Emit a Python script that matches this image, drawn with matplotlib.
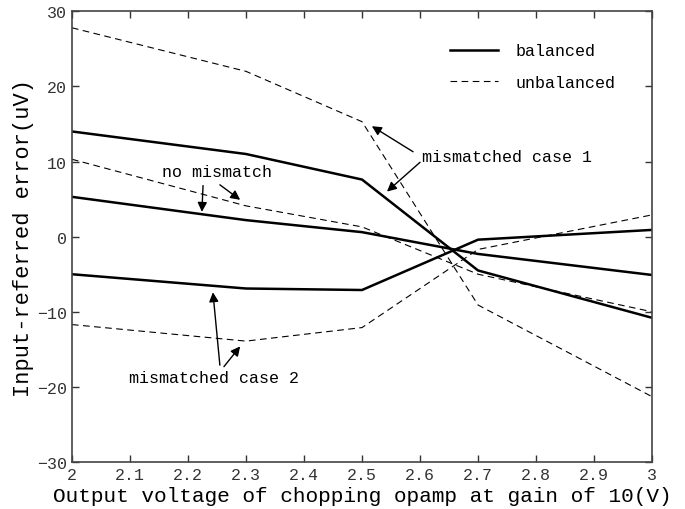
import matplotlib
matplotlib.use("Agg")
import matplotlib.pyplot as plt

x = [2.0, 2.3, 2.5, 2.7, 3.0]

bal_case1 = [14.0, 11.0, 7.6, -4.5, -10.8]
bal_nomis = [5.3, 2.2, 0.6, -2.3, -5.1]
bal_case2 = [-5.0, -6.9, -7.1, -0.4, 0.9]

unb_case1 = [27.8, 22.0, 15.3, -9.1, -21.3]
unb_nomis = [10.3, 4.1, 1.3, -5.0, -10.0]
unb_case2 = [-11.7, -13.9, -12.1, -1.7, 2.9]

xticks = [2, 2.1, 2.2, 2.3, 2.4, 2.5, 2.6, 2.7, 2.8, 2.9, 3]
xticklabels = ["2", "2.1", "2.2", "2.3", "2.4", "2.5", "2.6", "2.7", "2.8", "2.9", "3"]
yticks = [-30, -20, -10, 0, 10, 20, 30]

plt.rcParams['font.family'] = ['Liberation Mono', 'DejaVu Sans Mono']

fig = plt.figure(figsize=(6.85, 5.1), dpi=100)
ax = fig.add_axes([0.105, 0.092, 0.847, 0.884])

for i, ys in enumerate([bal_case1, bal_nomis, bal_case2]):
    ax.plot(x, ys, color='black', lw=1.8, label='balanced' if i == 0 else None)
for i, ys in enumerate([unb_case1, unb_nomis, unb_case2]):
    ax.plot(x, ys, color='black', lw=0.8, dashes=(6, 4), label='unbalanced' if i == 0 else None)

ax.set_xlim(2, 3)
ax.set_ylim(-30, 30)
ax.set_xticks(xticks)
ax.set_xticklabels(xticklabels)
ax.set_yticks(yticks)
ax.tick_params(direction='in', top=True, right=True, length=5, labelsize=12,
               labelcolor='#333333', color='#333333', width=1)
for s in ax.spines.values():
    s.set_color('#444444')
    s.set_linewidth(1.2)

ax.set_xlabel("Output voltage of chopping opamp at gain of 10(V)", fontsize=15.2, labelpad=3)
ax.set_ylabel("Input-referred error(uV)", fontsize=15.8, labelpad=2)

leg = ax.legend(loc='upper right', frameon=False, fontsize=12, handlelength=2.9,
                handletextpad=1.0, bbox_to_anchor=(0.962, 0.962), labelspacing=1.0)

ap = dict(arrowstyle='-|>', lw=1.0, color='black', mutation_scale=14, shrinkA=0, shrinkB=0)
ax.text(2.25, 8.7, "no mismatch", fontsize=12, ha='center', va='center')
ax.annotate("", xy=(2.224, 3.3), xytext=(2.226, 6.8), arrowprops=ap)
ax.annotate("", xy=(2.29, 4.9), xytext=(2.255, 6.9), arrowprops=ap)

ax.text(2.75, 10.7, "mismatched case 1", fontsize=12, ha='center', va='center')
ax.annotate("", xy=(2.517, 14.7), xytext=(2.588, 11.3), arrowprops=ap)
ax.annotate("", xy=(2.543, 6.0), xytext=(2.60, 9.9), arrowprops=ap)

ax.text(2.245, -18.8, "mismatched case 2", fontsize=12, ha='center', va='center')
ax.annotate("", xy=(2.243, -7.4), xytext=(2.255, -17.1), arrowprops=ap)
ax.annotate("", xy=(2.29, -14.6), xytext=(2.262, -17.3), arrowprops=ap)

fig.savefig("out.png", dpi=100)
